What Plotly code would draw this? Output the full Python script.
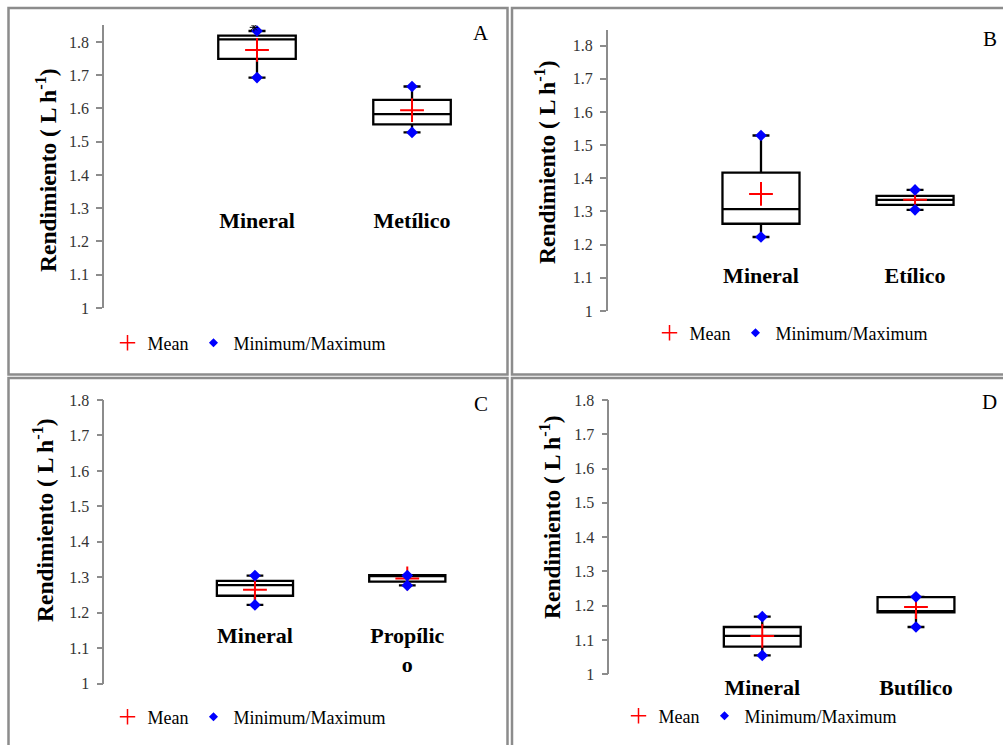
import plotly.graph_objects as go

# ---------------- data ----------------
cats_A = ["Mineral", "Metílico"]
q1_A = [1.749, 1.552]
med_A = [1.808, 1.583]
q3_A = [1.819, 1.626]
min_A = [1.693, 1.528]
max_A = [1.833, 1.666]
mean_A = [1.776, 1.595]
outlier_A = [1.844]          # asterisk above Mineral

cats_B = ["Mineral", "Etílico"]
q1_B = [1.263, 1.320]
med_B = [1.307, 1.335]
q3_B = [1.417, 1.347]
min_B = [1.223, 1.305]
max_B = [1.529, 1.365]
mean_B = [1.353, 1.335]

cats_C = ["Mineral", "Propílic<br>o"]
q1_C = [1.248, 1.288]
med_C = [1.278, 1.306]
q3_C = [1.290, 1.306]
min_C = [1.222, 1.277]
max_C = [1.305, 1.305]
mean_C = [1.265, 1.297]

cats_D = ["Mineral", "Butílico"]
q1_D = [1.081, 1.181]
med_D = [1.112, 1.181]
q3_D = [1.138, 1.225]
min_D = [1.055, 1.138]
max_D = [1.168, 1.226]
mean_D = [1.112, 1.196]

y_ticks = [1, 1.1, 1.2, 1.3, 1.4, 1.5, 1.6, 1.7, 1.8]
y_ticktext = ["1", "1.1", "1.2", "1.3", "1.4", "1.5", "1.6", "1.7", "1.8"]
panel_letters = ["A", "B", "C", "D"]
y_title = "Rendimiento ( L h<sup>-1</sup>)"

# ---------------- layout helpers ----------------
W, H = 1003, 745
SERIF = "Liberation Serif, Times New Roman, serif"


def px_x(p):
    return p / W


def px_y(p):
    return 1 - p / H


panels = [
    dict(cats=cats_A, q1=q1_A, med=med_A, q3=q3_A, lo=min_A, hi=max_A, mean=mean_A,
         xdom=(104, 490), xr=(-0.987, 1.503), ydom=(308, 25), yr=(1.0, 1.851),
         catpos=205, legx=249, legy=343, title=(46, 170), letter=(481, 33)),
    dict(cats=cats_B, q1=q1_B, med=med_B, q3=q3_B, lo=min_B, hi=max_B, mean=mean_B,
         xdom=(607.7, 995), xr=(-0.995, 1.519), ydom=(311, 30), yr=(1.0, 1.847),
         catpos=260, legx=791, legy=333, title=(545, 162), letter=(990, 39)),
    dict(cats=cats_C, q1=q1_C, med=med_C, q3=q3_C, lo=min_C, hi=max_C, mean=mean_C,
         xdom=(104.3, 490), xr=(-0.989, 1.543), ydom=(683.7, 400), yr=(1.0, 1.8),
         catpos=620, legx=249, legy=717, title=(43, 520), letter=(481, 404)),
    dict(cats=cats_D, q1=q1_D, med=med_D, q3=q3_D, lo=min_D, hi=max_D, mean=mean_D,
         xdom=(609.3, 995), xr=(-0.995, 1.514), ydom=(674.3, 400), yr=(1.0, 1.8),
         catpos=672, legx=760, legy=716, title=(550, 517), letter=(989, 402)),
]

fig = go.Figure()
layout = dict(
    width=W, height=H, margin=dict(l=0, r=0, t=0, b=0, pad=0, autoexpand=False),
    paper_bgcolor="white", plot_bgcolor="white",
    font=dict(family=SERIF, color="#000"),
    annotations=[], shapes=[], showlegend=True,
)

for i, p in enumerate(panels):
    n = "" if i == 0 else str(i + 1)
    xa, ya = "x" + n, "y" + n
    leg = "legend" + n
    xpos = [0, 1]

    fig.add_trace(go.Box(
        x=xpos, q1=p["q1"], median=p["med"], q3=p["q3"],
        lowerfence=p["lo"], upperfence=p["hi"],
        width=0.5, whiskerwidth=0.22, boxpoints=False,
        line=dict(color="black", width=2.3), fillcolor="white",
        xaxis=xa, yaxis=ya, showlegend=False, hoverinfo="skip",
    ))
    fig.add_trace(go.Scatter(
        x=xpos, y=p["mean"], mode="markers", name="Mean",
        marker=dict(symbol="cross-thin-open", size=17, color="red",
                    line=dict(color="red", width=2)),
        xaxis=xa, yaxis=ya, showlegend=False,
    ))
    fig.add_trace(go.Scatter(
        x=[0, 0, 1, 1], y=[p["lo"][0], p["hi"][0], p["lo"][1], p["hi"][1]],
        mode="markers", name="Minimum/Maximum",
        marker=dict(symbol="diamond", size=9, color="blue"),
        xaxis=xa, yaxis=ya, showlegend=False,
    ))
    # legend entries (smaller symbols, as in the reference legend)
    fig.add_trace(go.Scatter(
        x=[None], y=[None], mode="markers", name="Mean",
        marker=dict(symbol="cross-thin-open", size=11, color="red",
                    line=dict(color="red", width=1.5)),
        xaxis=xa, yaxis=ya, legend=leg,
    ))
    fig.add_trace(go.Scatter(
        x=[None], y=[None], mode="markers", name="Minimum/Maximum",
        marker=dict(symbol="diamond", size=7, color="blue"),
        xaxis=xa, yaxis=ya, legend=leg,
    ))
    if i == 0:
        fig.add_trace(go.Scatter(
            x=[-0.02] * len(outlier_A), y=outlier_A, mode="markers",
            marker=dict(symbol="asterisk-open", size=7, color="black",
                        line=dict(color="black", width=1)),
            xaxis=xa, yaxis=ya, showlegend=False, hoverinfo="skip",
        ))

    layout["xaxis" + n] = dict(
        domain=[px_x(p["xdom"][0]), px_x(p["xdom"][1])], range=list(p["xr"]),
        anchor="free", position=px_y(p["catpos"]),
        tickvals=xpos, ticktext=p["cats"], showline=False, showgrid=False,
        zeroline=False, ticks="", automargin=False,
        tickfont=dict(family=SERIF, size=22, color="black", weight="bold"),
    )
    layout["yaxis" + n] = dict(
        domain=[px_y(p["ydom"][0]), px_y(p["ydom"][1])], range=list(p["yr"]),
        anchor=xa, tickvals=y_ticks, ticktext=y_ticktext,
        showline=True, linecolor="#8c8c8c", linewidth=1.5,
        ticks="outside", ticklen=6, tickcolor="#8c8c8c", tickwidth=1.5,
        ticklabelstandoff=4, automargin=False,
        showgrid=False, zeroline=False,
        tickfont=dict(family=SERIF, size=16, color="#333333"),
    )
    layout[leg] = dict(
        orientation="h", x=px_x(p["legx"]), xanchor="center",
        y=px_y(p["legy"]), yanchor="middle",
        font=dict(family=SERIF, size=18, color="black"),
        bgcolor="rgba(0,0,0,0)",
    )
    layout["annotations"].append(dict(
        text=y_title, textangle=-90, x=px_x(p["title"][0]), y=px_y(p["title"][1]),
        xref="paper", yref="paper", xanchor="center", yanchor="middle",
        showarrow=False,
        font=dict(family=SERIF, size=23.5, color="black", weight="bold"),
    ))
    layout["annotations"].append(dict(
        text=panel_letters[i], x=px_x(p["letter"][0]), y=px_y(p["letter"][1]),
        xref="paper", yref="paper", xanchor="center", yanchor="middle",
        showarrow=False,
        font=dict(family=SERIF, size=21, color="black"),
    ))

# panel frames
frames = [(8.5, 8, 507.5, 374.5), (512, 8, 1012, 374.5),
          (8.5, 378, 507.5, 760), (512, 378, 1012, 760)]
for (x0, y0, x1, y1) in frames:
    layout["shapes"].append(dict(
        type="rect", xref="paper", yref="paper",
        x0=px_x(x0), x1=px_x(x1), y0=px_y(y1), y1=px_y(y0),
        line=dict(color="#8c8c8c", width=2.5), fillcolor="rgba(0,0,0,0)",
    ))

fig.update_layout(**layout)
fig.write_html("out.html", config={"displayModeBar": False},
               post_script="document.body.style.margin='0px';document.body.style.overflow='hidden';")
